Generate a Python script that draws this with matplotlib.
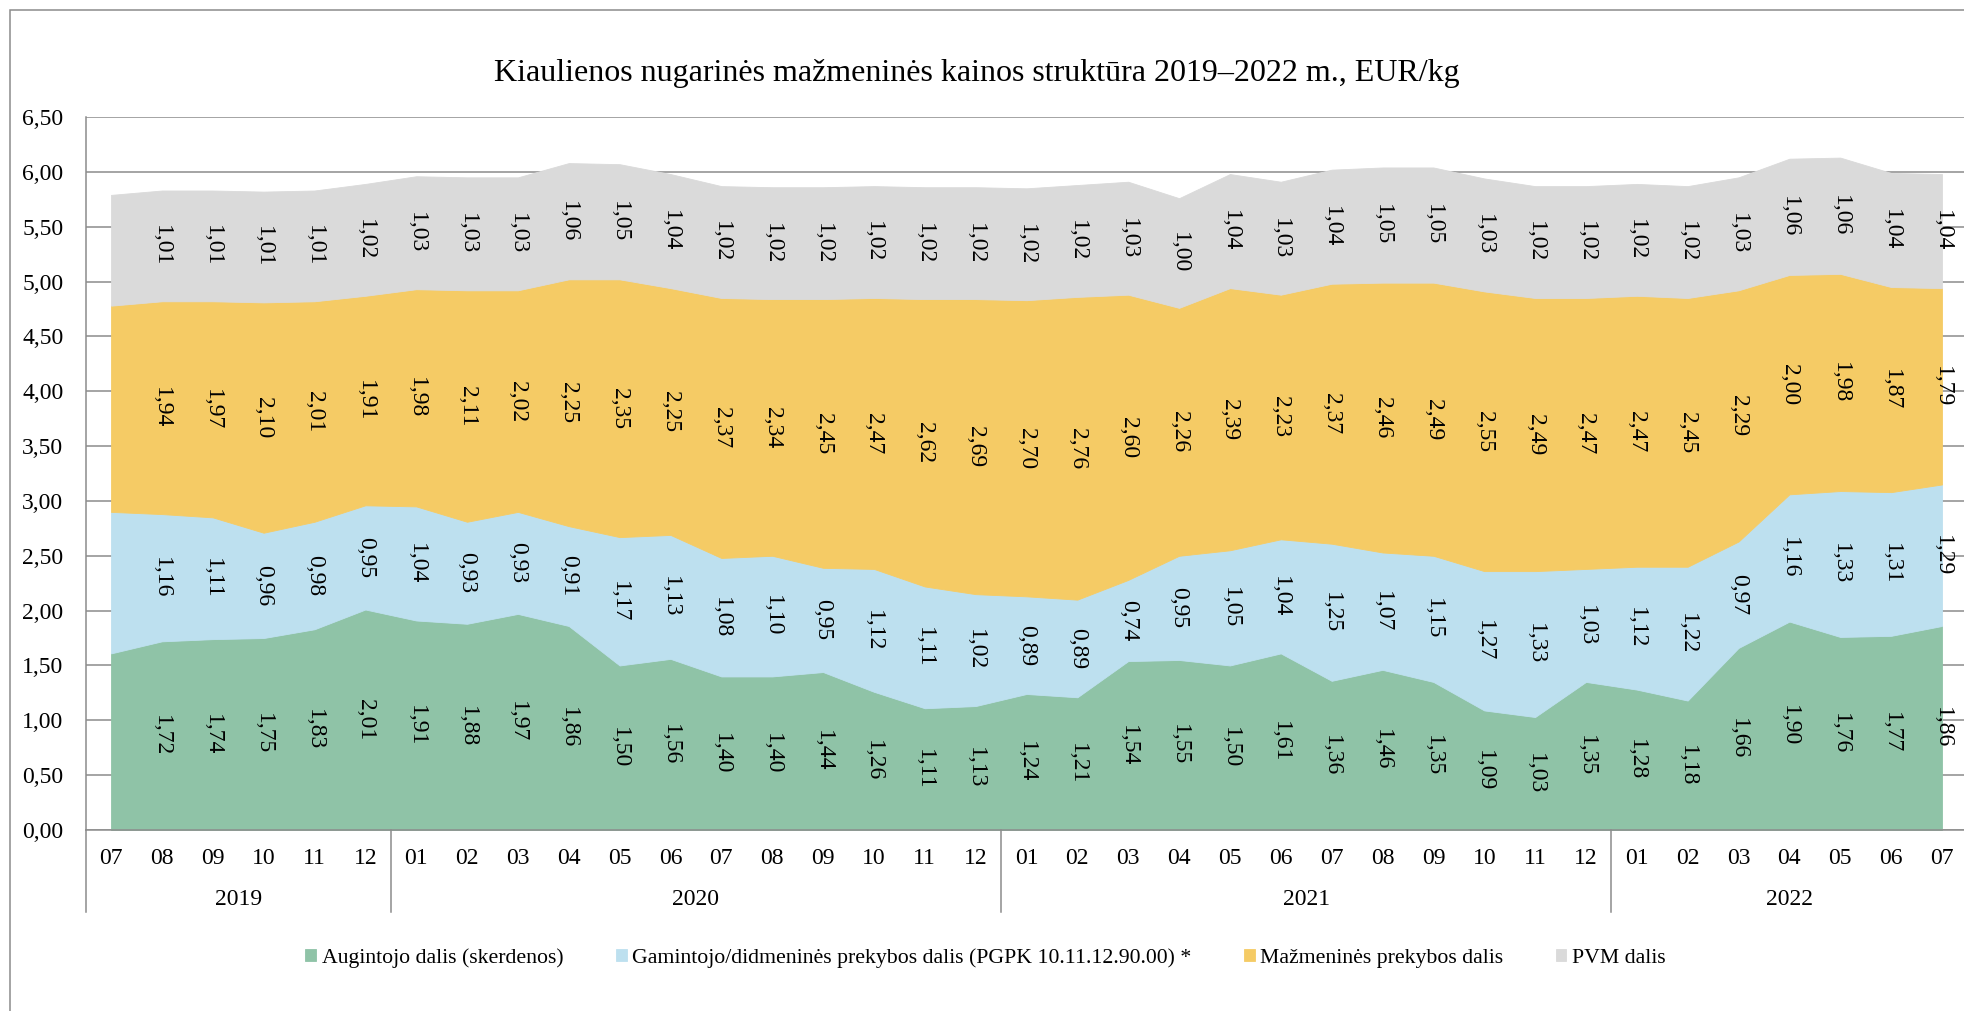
import matplotlib
matplotlib.use("Agg")
import matplotlib.pyplot as plt
from matplotlib.patches import Rectangle

plt.rcParams['font.family'] = ['Liberation Serif', 'DejaVu Serif']

months = ["07", "08", "09", "10", "11", "12",
          "01", "02", "03", "04", "05", "06", "07", "08", "09", "10", "11", "12",
          "01", "02", "03", "04", "05", "06", "07", "08", "09", "10", "11", "12",
          "01", "02", "03", "04", "05", "06", "07"]
years = ["2019", "2020", "2021", "2022"]
year_counts = [6, 12, 12, 7]

augintojo = [1.61, 1.72, 1.74, 1.75, 1.83, 2.01,
             1.91, 1.88, 1.97, 1.86, 1.50, 1.56, 1.40, 1.40, 1.44, 1.26, 1.11, 1.13,
             1.24, 1.21, 1.54, 1.55, 1.50, 1.61, 1.36, 1.46, 1.35, 1.09, 1.03, 1.35,
             1.28, 1.18, 1.66, 1.90, 1.76, 1.77, 1.86]
gamintojo = [1.29, 1.16, 1.11, 0.96, 0.98, 0.95,
             1.04, 0.93, 0.93, 0.91, 1.17, 1.13, 1.08, 1.10, 0.95, 1.12, 1.11, 1.02,
             0.89, 0.89, 0.74, 0.95, 1.05, 1.04, 1.25, 1.07, 1.15, 1.27, 1.33, 1.03,
             1.12, 1.22, 0.97, 1.16, 1.33, 1.31, 1.29]
mazmenine = [1.88, 1.94, 1.97, 2.10, 2.01, 1.91,
             1.98, 2.11, 2.02, 2.25, 2.35, 2.25, 2.37, 2.34, 2.45, 2.47, 2.62, 2.69,
             2.70, 2.76, 2.60, 2.26, 2.39, 2.23, 2.37, 2.46, 2.49, 2.55, 2.49, 2.47,
             2.47, 2.45, 2.29, 2.00, 1.98, 1.87, 1.79]
pvm = [1.01, 1.01, 1.01, 1.01, 1.01, 1.02,
       1.03, 1.03, 1.03, 1.06, 1.05, 1.04, 1.02, 1.02, 1.02, 1.02, 1.02, 1.02,
       1.02, 1.02, 1.03, 1.00, 1.04, 1.03, 1.04, 1.05, 1.05, 1.03, 1.02, 1.02,
       1.02, 1.02, 1.03, 1.06, 1.06, 1.04, 1.04]

series_names = ["Augintojo dalis (skerdenos)",
                "Gamintojo/didmeninės prekybos dalis (PGPK 10.11.12.90.00) *",
                "Mažmeninės prekybos dalis",
                "PVM dalis"]
colors = ["#8FC3A7", "#BDE0EF", "#F5CB65", "#DADADA"]
title = "Kiaulienos nugarinės mažmeninės kainos struktūra 2019–2022 m., EUR/kg"

W, H = 1964, 1011
fig = plt.figure(figsize=(W / 100, H / 100), dpi=100)

# outer frame
fig.patches.append(Rectangle((10 / W, -0.1), 1.2, 1 - 10 / H + 0.1, transform=fig.transFigure,
                             fill=False, edgecolor="#8C8C8C", linewidth=1.1))

ax_left, ax_bottom = 85.6, 830.0
ax_w, ax_h = 1881.8, 713.0
ax = fig.add_axes([ax_left / W, 1 - ax_bottom / H, ax_w / W, ax_h / H])

x = list(range(len(months)))
data = [augintojo, gamintojo, mazmenine, pvm]
polys = ax.stackplot(x, *data, colors=colors, labels=series_names, linewidth=0.6)
for p, c in zip(polys, colors):
    p.set_edgecolor(c)

ax.set_xlim(-0.5, len(months) - 0.5)
ax.set_ylim(0, 6.5)
ax.set_axisbelow(True)
yt = [i * 0.5 for i in range(14)]
ax.set_yticks(yt)
ax.set_yticklabels([f"{v:.2f}".replace(".", ",") for v in yt], fontsize=17)
ax.tick_params(axis="y", length=0, pad=16)
ax.grid(axis="y", color="#8C8C8C", linewidth=1.1)
for s in ["top", "right"]:
    ax.spines[s].set_visible(False)
for s in ["left", "bottom"]:
    ax.spines[s].set_color("#8C8C8C")
    ax.spines[s].set_linewidth(1.1)

ax.set_xticks([])
xt = ax.get_xaxis_transform()
for i, m in enumerate(months):
    ax.text(i, -34 / ax_h, m, transform=xt, ha="center", va="baseline", fontsize=17)

start = -0.5
bounds = [start]
for yr, n in zip(years, year_counts):
    mid = start + n / 2
    ax.text(mid, -75 / ax_h, yr, transform=xt, ha="center", va="baseline", fontsize=17)
    start += n
    bounds.append(start)
for b in bounds:
    ax.plot([b, b], [0, -82 / ax_h], transform=xt, color="#8C8C8C", linewidth=1.1, clip_on=False)

# data labels
cum = [0.0] * len(months)
for vals in data:
    for i, v in enumerate(vals):
        if i >= 1:
            ax.text(i, cum[i] + v / 2, f"{v:.2f}".replace(".", ","), rotation=270,
                    ha="center", va="center", fontsize=17, rotation_mode="anchor")
        cum[i] += v

fig.text(977 / W, 1 - 73 / H, title, ha="center", va="center", fontsize=23)

fig.legend(handles=polys, labels=series_names, loc="center", bbox_to_anchor=(985.5 / W, 1 - 958 / H),
           ncol=4, frameon=False, fontsize=15.7, handlelength=0.5, handleheight=0.5,
           handletextpad=0.25, columnspacing=2.4)

fig.savefig("out.png", dpi=100)
